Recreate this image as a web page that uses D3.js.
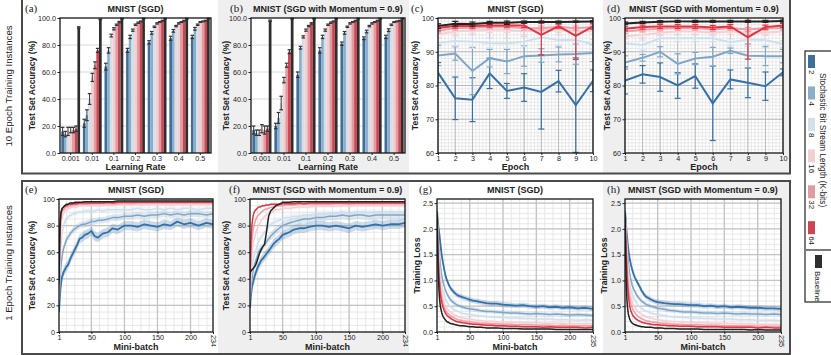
<!DOCTYPE html>
<html>
<head>
<meta charset="utf-8">
<script src="https://cdn.jsdelivr.net/npm/d3@7"></script>
<style>
body { margin: 0; background: #fff; }
svg text { font-family: "Liberation Sans", Arial, sans-serif; fill: #222; }
</style>
</head>
<body>
<svg id="chart" width="831" height="355"></svg>
<script>
// categories / series
var rates = ["0.001", "0.01", "0.1", "0.2", "0.3", "0.4", "0.5"];
var seriesNames = ["2", "4", "8", "16", "32", "64", "Baseline"];
var epochs = [1, 2, 3, 4, 5, 6, 7, 8, 9, 10];
var batchAcc = [1,2,3,4,5,6,8,10,12,14,16,18,20,23,26,29,32,36,40,45,50,55,60,67,75,82,90,100,110,120,130,140,150,160,170,180,190,200,212,224,234];
var batchLoss = [1,2,3,4,5,6,8,10,12,14,16,18,20,23,26,29,32,36,40,45,50,55,60,67,75,82,90,100,110,120,130,140,150,160,170,180,190,200,212,224,235];

var barColors = ["#3e6f9b", "#8cadc8", "#d3dfe9", "#f1d0d4", "#e19ca2", "#cc4550", "#2e2e2e"];
var lineColors = ["#3571a8", "#7fa6c9", "#cfdfee", "#f6cfd5", "#ee9fa8", "#e3343f", "#222222"];

// (a) 10 epochs, SGD: one row per learning rate, 6 bit-stream lengths + baseline
var sgdBars = [
  [16, 14, 16, 17, 17, 18, 93],
  [22, 28, 40, 56, 65, 76, 99],
  [64, 76, 87, 92, 95, 97, 99.5],
  [76, 86, 91, 95, 96.5, 97.5, 99.5],
  [82, 89, 93.5, 96, 97, 98, 99.5],
  [85, 90.5, 94, 96, 97, 98, 99.5],
  [86, 92, 95, 97, 97.5, 98, 99.5]
];
var sgdBarErr = [
  [3, 2, 3, 2, 2, 2, 0.5],
  [3, 4, 4, 3, 2.5, 1.5, 0.3],
  [2.5, 2, 1, 0.8, 0.5, 0.5, 0.3],
  [1.5, 1.2, 0.8, 0.5, 0.5, 0.3, 0.3],
  [1.2, 1, 0.5, 0.5, 0.3, 0.3, 0.3],
  [1.5, 1, 0.5, 0.5, 0.3, 0.3, 0.3],
  [1.2, 1, 0.5, 0.3, 0.3, 0.3, 0.3]
];
// (b) 10 epochs, SGD with momentum
var momBars = [
  [17, 15, 15, 18, 17, 18, 98],
  [20, 26, 37, 54, 65, 75, 99.5],
  [58, 78, 86, 91, 94, 96, 99.5],
  [76, 86, 91, 95, 96.5, 97.5, 99.5],
  [81, 89, 93.5, 96, 97, 98, 99.5],
  [85, 90, 94, 96, 97, 98, 99.5],
  [86, 91, 95, 97, 97.5, 98, 99.5]
];
var momBarErr = [
  [3, 2, 2, 3, 3, 2, 0.5],
  [2, 4, 5, 2, 1.5, 1.5, 0.3],
  [2, 1, 0.8, 0.8, 0.5, 0.5, 0.3],
  [2, 1.2, 0.8, 0.5, 0.5, 0.3, 0.3],
  [1.2, 1, 0.5, 0.5, 0.3, 0.3, 0.3],
  [1, 1, 0.5, 0.5, 0.3, 0.3, 0.3],
  [1.2, 1, 0.5, 0.3, 0.3, 0.3, 0.3]
];
// (c) per-epoch accuracy, SGD: one row per series
var sgdEpoch = [
  [83.8, 76.2, 75.8, 83.6, 78.4, 79.4, 78.1, 81.3, 74.2, 81.4],
  [88.9, 89.5, 84.3, 88.1, 87.1, 88.7, 88.9, 89.2, 89.3, 89.6],
  [92.6, 93.2, 93, 92.6, 92.5, 93, 94.2, 93.5, 93.5, 92.2],
  [95.2, 96, 96.3, 96.5, 96.5, 96, 96.6, 96.5, 96.2, 96],
  [96.2, 97, 97.1, 97.4, 97.4, 97, 97, 97.4, 97, 97.3],
  [97, 97.6, 97.6, 97.8, 97.8, 97.8, 95, 97.6, 94.7, 97.5],
  [97.6, 98.3, 98.2, 98.6, 98.6, 98.8, 98.8, 98.8, 98.9, 99]
];
var sgdEpochErr = [
  [3, 6.3, 6.5, 4.5, 2.2, 4.1, 11, 3.2, 14, 3.2],
  [3, 2, 7, 2.6, 3.6, 3, 2, 2.2, 3, 2.5],
  [1.5, 1.5, 2, 1.5, 1.5, 1.5, 2, 1.5, 1.5, 1.5],
  [1, 0.8, 0.8, 0.8, 0.8, 1, 0.8, 0.8, 0.8, 0.8],
  [0.6, 0.6, 0.6, 0.6, 0.6, 0.6, 0.6, 0.6, 0.6, 0.6],
  [0.8, 0.6, 0.6, 0.5, 0.5, 0.6, 6, 0.6, 7, 0.8],
  [0.7, 0.7, 0.6, 0.4, 0.5, 0.3, 0.3, 0.3, 0.2, 0.2]
];
// (d) per-epoch accuracy, momentum
var momEpoch = [
  [81.5, 83.3, 82.5, 80, 82.8, 74.7, 81.8, 80.8, 79.8, 83.9],
  [86.8, 88.2, 90, 86.4, 88, 88.5, 90.3, 88.8, 88.7, 88.7],
  [92.5, 92, 94, 94, 94, 94, 92.8, 93.6, 93.5, 92.3],
  [94.6, 95, 95.6, 96, 96, 95.6, 96, 95.6, 95.6, 96],
  [96, 96.5, 96.8, 97, 97, 96.6, 97, 96.6, 97, 97],
  [96.8, 97.3, 97.5, 97.5, 97.5, 97.2, 97.5, 94.3, 97.3, 97.8],
  [98.4, 98.7, 98.9, 99, 99, 99, 99, 99, 99, 99.1]
];
var momEpochErr = [
  [4, 2.6, 4.2, 3.8, 3.6, 11, 2.8, 4.4, 4.2, 1],
  [2, 1, 1.5, 3, 1.8, 2.8, 0.8, 3.5, 2.8, 2],
  [1.5, 1.5, 1, 1, 1, 1, 1, 2, 1.5, 1],
  [0.8, 0.8, 0.8, 0.8, 0.8, 0.8, 0.8, 0.8, 0.8, 0.8],
  [0.6, 0.6, 0.6, 0.6, 0.6, 0.6, 0.6, 0.6, 0.6, 0.6],
  [0.6, 0.6, 0.6, 0.6, 0.6, 0.6, 0.6, 6.5, 0.6, 0.6],
  [0.4, 0.3, 0.3, 0.3, 0.3, 0.3, 0.3, 0.3, 0.3, 0.3]
];
// (e) 1 epoch, SGD, test accuracy per mini-batch
var sgdAcc = [
  [15,24,31,36,40,42,45,47,49,50,52,55,57,60,63,66,70,71,73,74,76,72,71,74,75,78,77,80,80,79,81,80,79,81,80,83,81,82,80,82,81],
  [20,32,42,49,54,58,63,66,69,71,72,74,75,77,78,79,80,81,81,82,83,83,84,84,85,86,86,87,87,88,87,88,88,89,88,89,88,89,89,88,89],
  [25,42,56,65,71,75,80,83,85,86,87,88,88,89,89,90,90,90,91,91,91,91,92,91,92,92,92,92,92,93,92,92,93,92,93,92,93,93,92,93,93],
  [30,55,70,79,84,87,89,91,92,92,93,93,94,94,94,94,95,95,95,95,95,95,95,95,95.5,95,96,95.5,96,96,95.5,96,96,96,95.5,96,96,96,96,96,96],
  [32,62,78,85,89,91,92,93,94,94,94.5,95,95,95.5,95.5,96,96,96,96,96,96.5,96.5,96.5,96.5,96.5,96.5,96.5,97,96.5,97,97,97,97,97,97,97,97,97,97,97,97],
  [35,68,83,89,91,93,94,95,95,95.5,96,96,96,96.5,96.5,96.5,97,97,97,97,97,97,97,97,97.5,97,97.5,97.5,97.5,97.5,97.5,97.5,97.5,97.5,97.5,97.5,97.5,97.5,97.5,97.5,97.5],
  [38,70,85,90,92,93,94,95,96,96,96.5,97,97,97,97.5,97.5,97.5,97.5,98,98,98,98,98,98,98,98,98.5,98.5,98.5,98.5,98.5,98.5,98.5,98.5,98.5,98.5,98.5,98.5,98.5,98.5,98.5]
];
var sgdAccSpread = [3.5, 2.5, 2, 1.2, 0.8, 0.6, 0.3];
// (f) 1 epoch, momentum, test accuracy
var momAcc = [
  [18,25,30,34,36,38,42,45,48,50,52,54,55,57,59,61,63,66,68,70,73,74,75,77,78,78,79,80,80,79,80,79,78,80,79,80,81,80,81,81,82],
  [22,30,36,40,44,47,51,54,57,60,62,63,64,66,68,70,72,74,76,78,80,81,82,83,84,85,85,86,86,87,87,88,87,88,88,87,88,88,88,88,88],
  [25,36,43,48,52,55,59,62,65,68,70,72,73,75,77,79,81,82,83,84,85,86,86,87,87,88,88,89,89,89,89,90,89,90,90,90,90,90,90,90,90],
  [30,44,52,58,63,67,71,75,78,80,82,84,85,87,88,89,90,91,92,92,93,93,93,93.5,94,94,94,94.5,94.5,94.5,94.5,95,94.5,95,95,95,95,95,95,95,95],
  [35,52,62,69,74,78,82,85,87,88,89,90,91,92,92.5,93,93.5,94,94.5,95,95,95.5,95.5,95.5,96,96,96,96,96,96,96.5,96.5,96,96.5,96.5,96.5,96.5,96.5,96.5,96.5,96.5],
  [40,62,74,81,85,88,91,92,93,94,94,94.5,95,95,95.5,95.5,96,96,96,96,96.5,96.5,96.5,96.5,97,96.5,97,97,97,97,97,97,97,97,97,97,97,97,97,97,97],
  [44,46,46,47,47,48,49,51,54,57,60,62,64,66,76,87,91,93,95,96,97.5,97.5,97.5,98,98,98,98,98,98,98,98,98,98,98,98,98,98,98,98,98,98]
];
var momAccSpread = [3.5, 3, 2.5, 1.2, 0.8, 0.6, 0.3];
// (g) 1 epoch, SGD, training loss
var sgdLoss = [
  [2.35,2.2,2.05,1.95,1.85,1.72,1.5,1.34,1.2,1.08,1.0,0.94,0.88,0.82,0.78,0.74,0.71,0.69,0.67,0.65,0.63,0.61,0.6,0.58,0.56,0.55,0.55,0.53,0.52,0.51,0.52,0.5,0.49,0.5,0.48,0.49,0.47,0.48,0.46,0.47,0.45],
  [2.3,2.0,1.8,1.6,1.45,1.3,1.1,0.97,0.88,0.8,0.74,0.69,0.65,0.6,0.57,0.54,0.52,0.5,0.48,0.46,0.45,0.44,0.43,0.41,0.4,0.4,0.39,0.38,0.37,0.37,0.36,0.35,0.36,0.35,0.34,0.35,0.34,0.33,0.34,0.33,0.32],
  [2.3,1.95,1.7,1.45,1.25,1.1,0.9,0.78,0.7,0.63,0.58,0.54,0.5,0.47,0.44,0.42,0.4,0.38,0.36,0.35,0.34,0.33,0.32,0.31,0.3,0.29,0.29,0.28,0.27,0.27,0.26,0.26,0.25,0.25,0.25,0.24,0.24,0.24,0.23,0.24,0.23],
  [2.3,1.9,1.6,1.3,1.1,0.95,0.76,0.64,0.56,0.5,0.46,0.43,0.4,0.37,0.34,0.32,0.3,0.28,0.27,0.26,0.25,0.24,0.23,0.22,0.21,0.21,0.2,0.2,0.19,0.19,0.18,0.18,0.18,0.17,0.17,0.17,0.17,0.16,0.16,0.16,0.16],
  [2.3,1.85,1.5,1.2,1.0,0.85,0.66,0.55,0.47,0.42,0.38,0.35,0.33,0.3,0.28,0.26,0.24,0.23,0.22,0.21,0.2,0.19,0.18,0.17,0.17,0.16,0.16,0.15,0.15,0.14,0.14,0.14,0.13,0.13,0.13,0.12,0.13,0.12,0.12,0.12,0.12],
  [2.3,1.8,1.4,1.1,0.9,0.75,0.58,0.48,0.41,0.36,0.32,0.3,0.28,0.25,0.23,0.21,0.2,0.19,0.18,0.17,0.16,0.15,0.15,0.14,0.13,0.13,0.12,0.12,0.11,0.11,0.1,0.1,0.1,0.09,0.1,0.09,0.09,0.09,0.09,0.08,0.09],
  [2.3,1.6,1.1,0.8,0.62,0.5,0.38,0.3,0.26,0.23,0.2,0.19,0.17,0.16,0.15,0.14,0.13,0.12,0.12,0.11,0.1,0.1,0.09,0.09,0.08,0.08,0.08,0.07,0.07,0.07,0.06,0.06,0.06,0.06,0.06,0.05,0.05,0.05,0.05,0.05,0.05]
];
var sgdLossSpread = [0.05, 0.04, 0.035, 0.03, 0.02, 0.02, 0.01];
// (h) 1 epoch, momentum, training loss
var momLoss = [
  [2.35,2.2,2.0,1.85,1.72,1.6,1.42,1.3,1.2,1.12,1.05,1.0,0.95,0.88,0.8,0.74,0.69,0.66,0.63,0.6,0.58,0.57,0.56,0.55,0.54,0.54,0.53,0.52,0.52,0.5,0.51,0.49,0.5,0.48,0.49,0.48,0.47,0.47,0.46,0.46,0.45],
  [2.3,2.1,1.9,1.7,1.5,1.35,1.13,1.0,0.9,0.83,0.78,0.73,0.69,0.64,0.6,0.57,0.54,0.52,0.5,0.48,0.46,0.45,0.44,0.42,0.41,0.4,0.39,0.39,0.38,0.37,0.37,0.36,0.37,0.36,0.35,0.36,0.35,0.35,0.34,0.35,0.34],
  [2.3,2.05,1.8,1.55,1.35,1.18,0.95,0.82,0.73,0.66,0.61,0.57,0.53,0.49,0.46,0.43,0.41,0.39,0.37,0.35,0.34,0.33,0.32,0.3,0.29,0.29,0.28,0.27,0.27,0.26,0.26,0.25,0.25,0.25,0.24,0.24,0.24,0.23,0.23,0.23,0.22],
  [2.3,2.0,1.7,1.45,1.2,1.02,0.8,0.67,0.58,0.52,0.47,0.43,0.4,0.37,0.34,0.32,0.3,0.28,0.27,0.25,0.24,0.23,0.22,0.21,0.2,0.2,0.19,0.19,0.18,0.18,0.17,0.17,0.17,0.16,0.16,0.16,0.16,0.15,0.15,0.15,0.15],
  [2.3,1.95,1.6,1.3,1.05,0.88,0.66,0.54,0.46,0.41,0.37,0.34,0.31,0.28,0.26,0.24,0.22,0.21,0.2,0.19,0.18,0.17,0.17,0.16,0.15,0.15,0.14,0.14,0.14,0.13,0.13,0.13,0.12,0.12,0.12,0.12,0.12,0.11,0.11,0.11,0.11],
  [2.3,1.9,1.5,1.15,0.9,0.72,0.5,0.4,0.34,0.3,0.27,0.25,0.23,0.21,0.19,0.18,0.17,0.16,0.15,0.14,0.14,0.13,0.13,0.12,0.12,0.11,0.11,0.11,0.1,0.1,0.1,0.1,0.09,0.09,0.09,0.09,0.09,0.08,0.09,0.08,0.08],
  [2.3,1.5,0.9,0.6,0.45,0.35,0.25,0.2,0.17,0.15,0.14,0.13,0.12,0.11,0.1,0.1,0.09,0.09,0.09,0.08,0.08,0.08,0.07,0.07,0.07,0.06,0.06,0.06,0.06,0.05,0.05,0.05,0.05,0.05,0.05,0.05,0.04,0.05,0.04,0.04,0.04]
];
var momLossSpread = [0.05, 0.04, 0.035, 0.03, 0.02, 0.02, 0.01];

var svg = d3.select("#chart");

// panel backgrounds and row frames
var colEdges = [22, 218, 409, 603, 790];
var rowEdges = [[-2, 173.5], [181, 354]];
rowEdges.forEach(function(r) {
	for (var i = 0; i < 4; i++) {
		svg.append("rect")
			.attr("x", colEdges[i]).attr("y", r[0])
			.attr("width", colEdges[i + 1] - colEdges[i]).attr("height", r[1] - r[0])
			.attr("fill", i % 2 ? "#efefef" : "#fff");
	}
	svg.append("rect")
		.attr("x", 22).attr("y", r[0]).attr("width", 768).attr("height", r[1] - r[0])
		.attr("fill", "none").attr("stroke", "#4a4a4a").attr("stroke-width", 2);
});

// row labels
[["10 Epoch Training Instances", 86], ["1 Epoch Training Instances", 263]].forEach(function(d) {
	svg.append("text")
		.attr("transform", "translate(12," + d[1] + ") rotate(-90)")
		.attr("text-anchor", "middle").attr("font-size", 9.6)
		.text(d[0]);
});

// shared panel furniture
function panel(p) {
	var g = svg.append("g");
	g.append("rect").attr("x", p.x0).attr("y", p.y0)
		.attr("width", p.x1 - p.x0).attr("height", p.y1 - p.y0).attr("fill", "#fff");
	svg.append("clipPath").attr("id", "clip" + p.letter).append("rect")
		.attr("x", p.x0).attr("y", p.y0).attr("width", p.x1 - p.x0).attr("height", p.y1 - p.y0);
	g.append("text").attr("x", p.lx).attr("y", p.y0 - 6)
		.style("font-family", "'Liberation Serif', 'Times New Roman', serif")
		.attr("font-size", 11).text("(" + p.letter + ")");
	g.append("text").attr("x", (p.x0 + p.x1) / 2).attr("y", p.y0 - 6)
		.attr("text-anchor", "middle").attr("font-size", 9).attr("font-weight", "bold")
		.text(p.title);
	g.append("text").attr("x", (p.x0 + p.x1) / 2).attr("y", p.xly)
		.attr("text-anchor", "middle").attr("font-size", 9).attr("font-weight", "bold")
		.text(p.xlab);
	g.append("text")
		.attr("transform", "translate(" + p.ylx + "," + (p.y0 + p.y1) / 2 + ") rotate(-90)")
		.attr("text-anchor", "middle").attr("font-size", 8.6).attr("font-weight", "bold")
		.text(p.ylab);
	return g;
}

function grid(g, p, x, y, xs, ys, col, w) {
	g.selectAll(null).data(xs).enter().append("line")
		.attr("x1", x).attr("x2", x).attr("y1", p.y0).attr("y2", p.y1)
		.attr("stroke", col).attr("stroke-width", w);
	g.selectAll(null).data(ys).enter().append("line")
		.attr("x1", p.x0).attr("x2", p.x1).attr("y1", y).attr("y2", y)
		.attr("stroke", col).attr("stroke-width", w);
}

function axes(g, p, x, y, xt, yt, xf, yf) {
	var ax = g.append("g").attr("transform", "translate(0," + p.y1 + ")")
		.call(d3.axisBottom(x).tickValues(xt).tickFormat(xf).tickSize(2).tickPadding(1));
	var ay = g.append("g").attr("transform", "translate(" + p.x0 + ",0)")
		.call(d3.axisLeft(y).tickValues(yt).tickFormat(yf).tickSize(2.5).tickPadding(1.5));
	[ax, ay].forEach(function(a) {
		a.select(".domain").remove();
		a.attr("font-size", 7.2);
		a.selectAll("line").attr("stroke", "#222");
	});
	g.append("rect").attr("x", p.x0).attr("y", p.y0)
		.attr("width", p.x1 - p.x0).attr("height", p.y1 - p.y0)
		.attr("fill", "none").attr("stroke", "#161616").attr("stroke-width", 1.3);
	return ax;
}

function barPanel(p, vals, errs) {
	var g = panel(p);
	var x = d3.scaleBand().domain(rates).range([p.x0, p.x1]).paddingInner(0.13).paddingOuter(0.06);
	var xi = d3.scaleBand().domain(d3.range(7)).range([0, x.bandwidth()]);
	var y = d3.scaleLinear().domain([0, 100]).range([p.y1, p.y0]);
	grid(g, p, x, y, [], [20, 40, 60, 80], "#d9d9d9", 1);
	rates.forEach(function(r, ri) {
		var grp = g.append("g").attr("transform", "translate(" + x(r) + ",0)");
		grp.selectAll("rect").data(vals[ri]).enter().append("rect")
			.attr("x", function(d, i) { return xi(i); })
			.attr("y", function(d) { return y(d); })
			.attr("width", xi.bandwidth())
			.attr("height", function(d) { return y(0) - y(d); })
			.attr("fill", function(d, i) { return barColors[i]; });
		vals[ri].forEach(function(v, i) {
			var cx = xi(i) + xi.bandwidth() / 2, e = errs[ri][i];
			grp.append("line").attr("x1", cx).attr("x2", cx)
				.attr("y1", y(v - e)).attr("y2", y(Math.min(v + e, 100.5)))
				.attr("stroke", "#333").attr("stroke-width", 1);
			[v - e, Math.min(v + e, 100.5)].forEach(function(t) {
				grp.append("line").attr("x1", cx - 1.8).attr("x2", cx + 1.8)
					.attr("y1", y(t)).attr("y2", y(t))
					.attr("stroke", "#333").attr("stroke-width", 1.2);
			});
		});
	});
	axes(g, p, x, y, rates, [0, 20, 40, 60, 80, 100], null, d3.format(".1f"));
}

function epochPanel(p, vals, errs) {
	var g = panel(p);
	var x = d3.scaleLinear().domain([1, 10]).range([p.x0, p.x1]);
	var y = d3.scaleLinear().domain([60, 100]).range([p.y1, p.y0]);
	grid(g, p, x, y, d3.range(1.2, 10, 0.2), d3.range(61, 100, 1), "#dcdcdc", 0.6);
	grid(g, p, x, y, epochs, [70, 80, 90], "#b5b5b5", 0.9);
	var plot = g.append("g").attr("clip-path", "url(#clip" + p.letter + ")");
	var line = d3.line().x(function(d, i) { return x(epochs[i]); }).y(function(d) { return y(d); });
	vals.forEach(function(s, si) {
		var c = lineColors[si];
		s.forEach(function(v, i) {
			var cx = x(epochs[i]), e = errs[si][i];
			plot.append("line").attr("x1", cx).attr("x2", cx)
				.attr("y1", y(v - e)).attr("y2", y(v + e))
				.attr("stroke", c).attr("stroke-width", 1.2);
			[v - e, v + e].forEach(function(t) {
				plot.append("line").attr("x1", cx - 3).attr("x2", cx + 3)
					.attr("y1", y(t)).attr("y2", y(t))
					.attr("stroke", c).attr("stroke-width", 1.2);
			});
		});
		plot.append("path").datum(s).attr("d", line)
			.attr("fill", "none").attr("stroke", c).attr("stroke-width", 2);
	});
	axes(g, p, x, y, epochs, [60, 70, 80, 90, 100], d3.format("d"), d3.format("d"));
}

function batchPanel(p, xs, vals, spread, yMax, yTicks, yMinor, yFmt) {
	var g = panel(p);
	var last = xs[xs.length - 1];
	var x = d3.scaleLinear().domain([1, last]).range([p.x0, p.x1]);
	var y = d3.scaleLinear().domain([0, yMax]).range([p.y1, p.y0]);
	grid(g, p, x, y, d3.range(12.5, last, 12.5), d3.range(yMinor, yMax, yMinor), "#e2e2e2", 0.8);
	grid(g, p, x, y, [50, 100, 150, 200], yTicks.slice(1), "#c4c4c4", 1.3);
	var plot = g.append("g").attr("clip-path", "url(#clip" + p.letter + ")");
	vals.forEach(function(s, si) {
		var area = d3.area()
			.x(function(d, i) { return x(xs[i]); })
			.y0(function(d) { return y(d - spread[si]); })
			.y1(function(d) { return y(d + spread[si]); });
		plot.append("path").datum(s).attr("d", area)
			.attr("fill", lineColors[si]).attr("opacity", 0.25);
	});
	var line = d3.line().x(function(d, i) { return x(xs[i]); }).y(function(d) { return y(d); });
	vals.forEach(function(s, si) {
		plot.append("path").datum(s).attr("d", line)
			.attr("fill", "none").attr("stroke", lineColors[si])
			.attr("stroke-width", si == 0 ? 1.8 : 1.5).attr("stroke-linejoin", "round");
	});
	var ax = axes(g, p, x, y, [1, 50, 100, 150, 200, last], yTicks, d3.format("d"), yFmt);
	ax.selectAll(".tick").filter(function(d) { return d == last; }).select("text")
		.attr("transform", "rotate(90)").attr("x", 3).attr("y", 0).attr("dy", "0.35em")
		.attr("text-anchor", "start");
}

var topTitleSGD = "MNIST (SGD)", topTitleMom = "MNIST (SGD with Momentum = 0.9)";

barPanel({x0: 60, x1: 211, y0: 18, y1: 153, letter: "a", lx: 25, ylx: 35, xly: 169.5,
	title: topTitleSGD, xlab: "Learning Rate", ylab: "Test Set Accuracy (%)"}, sgdBars, sgdBarErr);
barPanel({x0: 251, x1: 405, y0: 18, y1: 153, letter: "b", lx: 230, ylx: 229, xly: 169.5,
	title: topTitleMom, xlab: "Learning Rate", ylab: "Test Set Accuracy (%)"}, momBars, momBarErr);
epochPanel({x0: 438, x1: 593, y0: 18, y1: 153, letter: "c", lx: 411, ylx: 418, xly: 169.5,
	title: topTitleSGD, xlab: "Epoch", ylab: "Test Set Accuracy (%)"}, sgdEpoch, sgdEpochErr);
epochPanel({x0: 625, x1: 783, y0: 18, y1: 153, letter: "d", lx: 607, ylx: 610, xly: 169.5,
	title: topTitleMom, xlab: "Epoch", ylab: "Test Set Accuracy (%)"}, momEpoch, momEpochErr);

batchPanel({x0: 59, x1: 213, y0: 199, y1: 332, letter: "e", lx: 25, ylx: 35, xly: 350,
	title: topTitleSGD, xlab: "Mini-batch", ylab: "Test Set Accuracy (%)"},
	batchAcc, sgdAcc, sgdAccSpread, 100, [0, 20, 40, 60, 80, 100], 5, d3.format("d"));
batchPanel({x0: 250, x1: 405, y0: 199, y1: 332, letter: "f", lx: 229, ylx: 229, xly: 350,
	title: topTitleMom, xlab: "Mini-batch", ylab: "Test Set Accuracy (%)"},
	batchAcc, momAcc, momAccSpread, 100, [0, 20, 40, 60, 80, 100], 5, d3.format("d"));
batchPanel({x0: 437, x1: 593, y0: 199, y1: 332, letter: "g", lx: 419, ylx: 420, xly: 350,
	title: topTitleSGD, xlab: "Mini-batch", ylab: "Training Loss"},
	batchLoss, sgdLoss, sgdLossSpread, 2.58, [0, 0.5, 1, 1.5, 2, 2.5], 0.1, d3.format(".1f"));
batchPanel({x0: 625, x1: 781, y0: 199, y1: 332, letter: "h", lx: 607, ylx: 607, xly: 350,
	title: topTitleMom, xlab: "Mini-batch", ylab: "Training Loss"},
	batchLoss, momLoss, momLossSpread, 2.58, [0, 0.5, 1, 1.5, 2, 2.5], 0.1, d3.format(".1f"));

// legend (rotated, reads top to bottom)
var lg = svg.append("g");
lg.append("rect").attr("x", 805).attr("y", 51).attr("width", 40).attr("height", 251)
	.attr("fill", "#fff").attr("stroke", "#222").attr("stroke-width", 1.2);
var ly = 55;
seriesNames.slice(0, 6).forEach(function(name, i) {
	lg.append("rect").attr("x", 808).attr("y", ly).attr("width", 7).attr("height", 13)
		.attr("fill", barColors[i]);
	var t = lg.append("text").attr("transform", "translate(808.5," + (ly + 15) + ") rotate(90)")
		.attr("font-size", 8).text(name);
	ly += 15 + t.node().getComputedTextLength() + 12;
});
lg.append("text").attr("transform", "translate(819.5,140) rotate(90)")
	.attr("text-anchor", "middle").attr("font-size", 8.2)
	.text("Stochastic Bit Stream Length (K-bits)");
lg.append("line").attr("x1", 806).attr("x2", 831).attr("y1", 250).attr("y2", 250)
	.attr("stroke", "#222").attr("stroke-width", 1.2);
lg.append("rect").attr("x", 815).attr("y", 255).attr("width", 7).attr("height", 13)
	.attr("fill", barColors[6]);
lg.append("text").attr("transform", "translate(815,271) rotate(90)")
	.attr("font-size", 8).text(seriesNames[6]);
</script>
</body>
</html>
